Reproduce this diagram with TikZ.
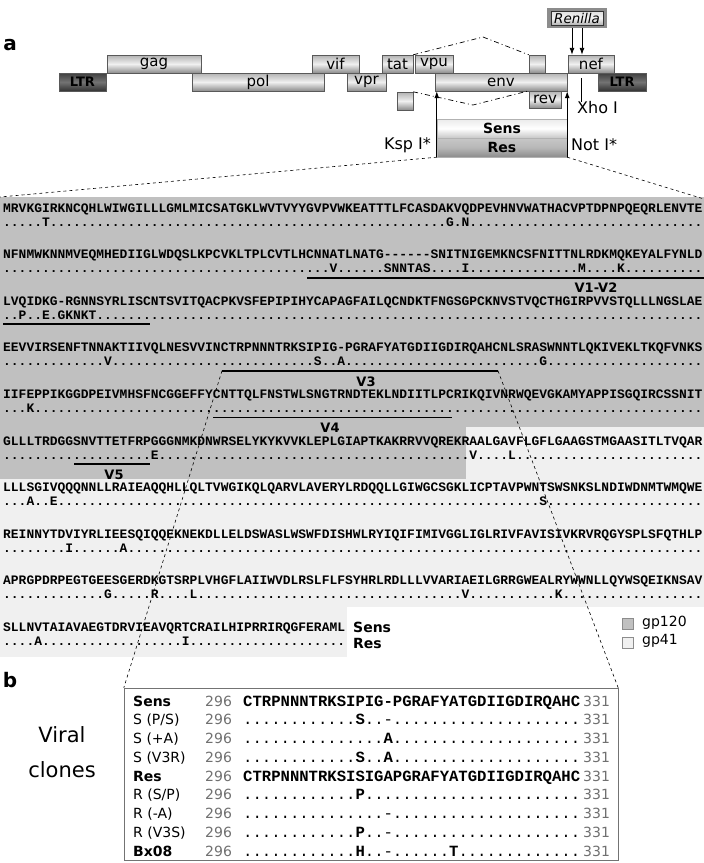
\documentclass[tikz,border=0pt]{standalone}
\usepackage{fontspec}
\setmainfont{DejaVu Sans}
\setmonofont{Liberation Mono}
\usetikzlibrary{arrows.meta}

\definecolor{gpdark}{HTML}{C0C0C0}
\definecolor{gplight}{HTML}{F0F0F0}
\definecolor{numgray}{HTML}{707070}

% n identical residues
\ExplSyntaxOn
\NewDocumentCommand{\idn}{m}{\prg_replicate:nn{#1}{.}}
\ExplSyntaxOff

\newcommand{\seqfont}{\ttfamily\bfseries\fontsize{12.95}{15}\selectfont}
\newcommand{\clonefont}{\ttfamily\fontsize{15.6}{18}\selectfont}
\newcommand{\genefont}{\fontsize{15}{18}\selectfont}
\newcommand{\ltrfont}{\bfseries\fontsize{13}{15}\selectfont}
\newcommand{\sitefont}{\fontsize{16}{19}\selectfont}
\newcommand{\labfont}{\bfseries\fontsize{14}{17}\selectfont}
\newcommand{\vlabfont}{\bfseries\fontsize{13}{15}\selectfont}
\newcommand{\namefont}{\fontsize{14}{17}\selectfont}
\newcommand{\panelfont}{\bfseries\fontsize{20}{24}\selectfont}
\newcommand{\viralfont}{\fontsize{21}{35}\selectfont}
\newcommand{\renfont}{\itshape\fontsize{13.5}{16}\selectfont}

\begin{document}
\begin{tikzpicture}[x=1pt, y=-1pt, inner sep=0pt,
    gene/.style={draw=black!65, top color=black!30, bottom color=black!45,
      middle color=black!6, minimum height=18pt, font=\genefont},
    ltr/.style={gene, top color=black!75, bottom color=black!80,
      middle color=black!55, font=\ltrfont},
    exon/.style={gene, minimum width=16pt},
    sensbox/.style={draw=black!30, minimum width=130pt, minimum height=19pt,
      font=\labfont},
    seq/.style={anchor=base west, font=\seqfont},
    vbar/.style={line width=1.8pt},
    vlab/.style={font=\vlabfont},
    zoomline/.style={dashed, line width=0.6pt},
    splice/.style={dash pattern=on 5pt off 3pt on 1pt off 3pt, line width=0.7pt},
    tip/.style={-{Latex[length=7pt,width=5pt]}, line width=0.9pt},
    clone/.style={anchor=base west, font=\clonefont},
    cname/.style={anchor=base west, font=\namefont},
    cnum/.style={anchor=base west, font=\namefont, text=numgray},
    legbox/.style={draw=black!45, minimum width=11pt, minimum height=11pt}]
  \useasboundingbox (0,0) rectangle (704,863);

  % gp120 / gp41 shading
  \fill[gpdark] (0,197) rectangle (704,427);
  \fill[gpdark] (0,427) rectangle (466,479);
  \fill[gplight] (466,427) rectangle (704,479);
  \fill[gplight] (0,479) rectangle (704,607);
  \fill[gplight] (0,607) rectangle (347,657);

  % env alignment, Sens over Res
  \node[seq] (s1) at (3,212) {MRVKGIRKNCQHLWIWGILLLGMLMICSATGKLWVTVYYGVPVWKEATTTLFCASDAKVQDPEVHNVWATHACVPTDPNPQEQRLENVTE};
  \node[seq] (r1) at (3,226) {\idn{5}T\idn{51}G.N\idn{30}};
  \node[seq] (s2) at (3,258.6) {NFNMWKNNMVEQMHEDIIGLWDQSLKPCVKLTPLCVTLHCNNATLNATG------SNITNIGEMKNCSFNITTNLRDKMQKEYALFYNLD};
  \node[seq] (r2) at (3,272.6) {\idn{42}V\idn{6}SNNTAS\idn{4}I\idn{14}M\idn{4}K\idn{10}};
  \node[seq] (s3) at (3,305.2) {LVQIDKG-RGNNSYRLISCNTSVITQACPKVSFEPIPIHYCAPAGFAILQCNDKTFNGSGPCKNVSTVQCTHGIRPVVSTQLLLNGSLAE};
  \node[seq] (r3) at (3,319.2) {..P..E.GKNKT\idn{78}};
  \node[seq] (s4) at (3,351.8) {EEVVIRSENFTNNAKTIIVQLNESVVINCTRPNNNTRKSIPIG-PGRAFYATGDIIGDIRQAHCNLSRASWNNTLQKIVEKLTKQFVNKS};
  \node[seq] (r4) at (3,365.8) {\idn{13}V\idn{26}S..A\idn{25}G\idn{20}};
  \node[seq] (s5) at (3,398.4) {IIFEPPIKGGDPEIVMHSFNCGGEFFYCNTTQLFNSTWLSNGTRNDTEKLNDIITLPCRIKQIVNRWQEVGKAMYAPPISGQIRCSSNIT};
  \node[seq] (r5) at (3,412.4) {...K\idn{86}};
  \node[seq] (s6) at (3,445) {GLLLTRDGGSNVTTETFRPGGGNMKDNWRSELYKYKVVKLEPLGIAPTKAKRRVVQREKRAALGAVFLGFLGAAGSTMGAASITLTVQAR};
  \node[seq] (r6) at (3,459) {\idn{19}E\idn{40}V\idn{4}L\idn{24}};
  \node[seq] (s7) at (3,491.6) {LLLSGIVQQQNNLLRAIEAQQHLLQLTVWGIKQLQARVLAVERYLRDQQLLGIWGCSGKLICPTAVPWNTSWSNKSLNDIWDNMTWMQWE};
  \node[seq] (r7) at (3,505.6) {...A..E\idn{62}S\idn{20}};
  \node[seq] (s8) at (3,538.2) {REINNYTDVIYRLIEESQIQQEKNEKDLLELDSWASLWSWFDISHWLRYIQIFIMIVGGLIGLRIVFAVISIVKRVRQGYSPLSFQTHLP};
  \node[seq] (r8) at (3,552.2) {\idn{8}I\idn{6}A\idn{74}};
  \node[seq] (s9) at (3,584.8) {APRGPDRPEGTGEESGERDKGTSRPLVHGFLAIIWVDLRSLFLFSYHRLRDLLLVVARIAEILGRRGWEALRYWWNLLQYWSQEIKNSAV};
  \node[seq] (r9) at (3,598.8) {\idn{13}G\idn{5}R\idn{4}L\idn{34}V\idn{11}K\idn{18}};
  \node[seq] (s10) at (3,631.4) {SLLNVTAIAVAEGTDRVIEAVQRTCRAILHIPRRIRQGFERAML};
  \node[seq] (r10) at (3,645.4) {\idn{4}A\idn{18}I\idn{20}};
  \node[anchor=base west, font=\labfont] (sensl) at (353,632) {Sens};
  \node[anchor=base west, font=\labfont] (resl) at (353,648) {Res};

  % variable loops
  \draw[vbar] (307,277.6) -- (704,277.6);
  \draw[vbar] (3,324.2) -- (150,324.2);
  \node[vlab] (v12) at (596,288.1) {V1-V2};
  \coordinate (v3a) at (222,370.8);
  \coordinate (v3b) at (498,370.8);
  \draw[vbar] (v3a) -- (v3b);
  \node[vlab] (v3) at (366,381.3) {V3};
  \draw[vbar] (213,417.4) -- (452,417.4);
  \node[vlab] (v4) at (330,427.9) {V4};
  \draw[vbar] (74,464) -- (150,464);
  \node[vlab] (v5) at (114,474.5) {V5};

  % legend
  \node[legbox, fill=gpdark] (key120) at (627.5,624) {};
  \node[anchor=west, font=\namefont] (lab120) at (642,623) {gp120};
  \node[legbox, fill=gplight] (key41) at (627.5,642.5) {};
  \node[anchor=west, font=\namefont] (lab41) at (642,641) {gp41};

  % HIV genome map
  \node[font=\panelfont] (pa) at (10,45) {a};
  \node[ltr, minimum width=47pt] (ltrL) at (82.5,82) {LTR};
  \node[gene, minimum width=132pt] (pol) at (258,82) {pol};
  \node[gene, minimum width=94pt] (gag) at (154,64) {gag};
  \node[gene, minimum width=47pt] (vif) at (335.5,64) {vif};
  \node[gene, minimum width=39pt] (vpr) at (366.5,82) {vpr};
  \node[gene, minimum width=31pt] (tat) at (397.5,64) {tat};
  \node[gene, minimum width=132pt] (env) at (501,82) {env};
  \node[gene, minimum width=38pt] (vpu) at (434,64) {vpu};
  \node[exon] (tat2) at (537,64) {};
  \node[gene, minimum width=46pt] (nef) at (591,64) {nef};
  \node[ltr, minimum width=48pt] (ltrR) at (622,82) {LTR};
  \node[exon] (rev1) at (405,101) {};
  \node[gene, minimum width=32pt, minimum height=17pt] (rev) at (545,99.5) {rev};
  \draw[splice] (tat.north east) -- (483,37) -- (tat2.north west);
  \draw[splice] (rev1.north east) -- (473,105) -- (rev.north west);

  \node[draw=black!45, line width=4pt, minimum width=56pt, minimum height=16pt]
    (renglow) at (577,18) {};
  \node[draw=black!80, top color=black!12, bottom color=black!30,
    middle color=black!5, minimum width=52pt, minimum height=14pt,
    font=\renfont] (renilla) at (577,18) {Renilla};
  \draw[tip] ([xshift=-5pt]renglow.south) -- ([xshift=-19pt]nef.north);
  \draw[tip] ([xshift=5pt]renglow.south) -- ([xshift=-9pt]nef.north);

  \node[sensbox, top color=black!8, bottom color=black!22, middle color=white]
    (sens) at (502,128.5) {Sens};
  \node[sensbox, top color=black!22, bottom color=black!45, middle color=black!28]
    (res) at (502,147.5) {Res};
  \draw[tip] (res.south west) -- (res.south west |- env.south);
  \draw[tip] (res.south east) -- (res.south east |- env.south);
  \node[anchor=east, font=\sitefont] (ksp) at (431,145) {Ksp I*};
  \node[anchor=west, font=\sitefont] (noti) at (571,145) {Not I*};
  \node[anchor=west, font=\sitefont] (xho) at (577,108) {Xho I};
  \coordinate (xhocut) at (581,78);
  \draw[line width=0.8pt] (xhocut) -- (xhocut |- xho.north);

  \coordinate (alnNW) at (0,197);
  \coordinate (alnNE) at (704,199);
  \draw[zoomline] (res.south west) -- (alnNW);
  \draw[zoomline] (res.south east) -- (alnNE);

  % V3 of the viral clones
  \node[font=\panelfont] (pb) at (10,680) {b};
  \node[font=\viralfont, align=center] (viral) at (62,752) {Viral\\clones};
  \node[draw=black!55, fill=white, minimum width=494pt, minimum height=172pt]
    (bbox) at (371,774) {};
  \draw[zoomline] (v3a) -- (bbox.north west);
  \draw[zoomline] (v3b) -- (bbox.north east);

  \node[cname] (n1) at (133,706) {\textbf{Sens}};
  \node[cnum] (a1) at (205,706) {296};
  \node[clone] (c1) at (243,706) {\bfseries CTRPNNNTRKSIPIG-PGRAFYATGDIIGDIRQAHC};
  \node[cnum] (e1) at (583,706) {331};
  \node[cname] (n2) at (133,724.75) {S (P/S)};
  \node[cnum] (a2) at (205,724.75) {296};
  \node[clone] (c2) at (243,724.75) {\idn{12}\textbf{S}..-\idn{20}};
  \node[cnum] (e2) at (583,724.75) {331};
  \node[cname] (n3) at (133,743.5) {S (+A)};
  \node[cnum] (a3) at (205,743.5) {296};
  \node[clone] (c3) at (243,743.5) {\idn{15}\textbf{A}\idn{20}};
  \node[cnum] (e3) at (583,743.5) {331};
  \node[cname] (n4) at (133,762.25) {S (V3R)};
  \node[cnum] (a4) at (205,762.25) {296};
  \node[clone] (c4) at (243,762.25) {\idn{12}\textbf{S}..\textbf{A}\idn{20}};
  \node[cnum] (e4) at (583,762.25) {331};
  \node[cname] (n5) at (133,781) {\textbf{Res}};
  \node[cnum] (a5) at (205,781) {296};
  \node[clone] (c5) at (243,781) {\bfseries CTRPNNNTRKSISIGAPGRAFYATGDIIGDIRQAHC};
  \node[cnum] (e5) at (583,781) {331};
  \node[cname] (n6) at (133,799.75) {R (S/P)};
  \node[cnum] (a6) at (205,799.75) {296};
  \node[clone] (c6) at (243,799.75) {\idn{12}\textbf{P}\idn{23}};
  \node[cnum] (e6) at (583,799.75) {331};
  \node[cname] (n7) at (133,818.5) {R (-A)};
  \node[cnum] (a7) at (205,818.5) {296};
  \node[clone] (c7) at (243,818.5) {\idn{15}-\idn{20}};
  \node[cnum] (e7) at (583,818.5) {331};
  \node[cname] (n8) at (133,837.25) {R (V3S)};
  \node[cnum] (a8) at (205,837.25) {296};
  \node[clone] (c8) at (243,837.25) {\idn{12}\textbf{P}..-\idn{20}};
  \node[cnum] (e8) at (583,837.25) {331};
  \node[cname] (n9) at (133,856) {\textbf{Bx08}};
  \node[cnum] (a9) at (205,856) {296};
  \node[clone] (c9) at (243,856) {\idn{12}\textbf{H}..-\idn{6}\textbf{T}\idn{13}};
  \node[cnum] (e9) at (583,856) {331};
\end{tikzpicture}
\end{document}
